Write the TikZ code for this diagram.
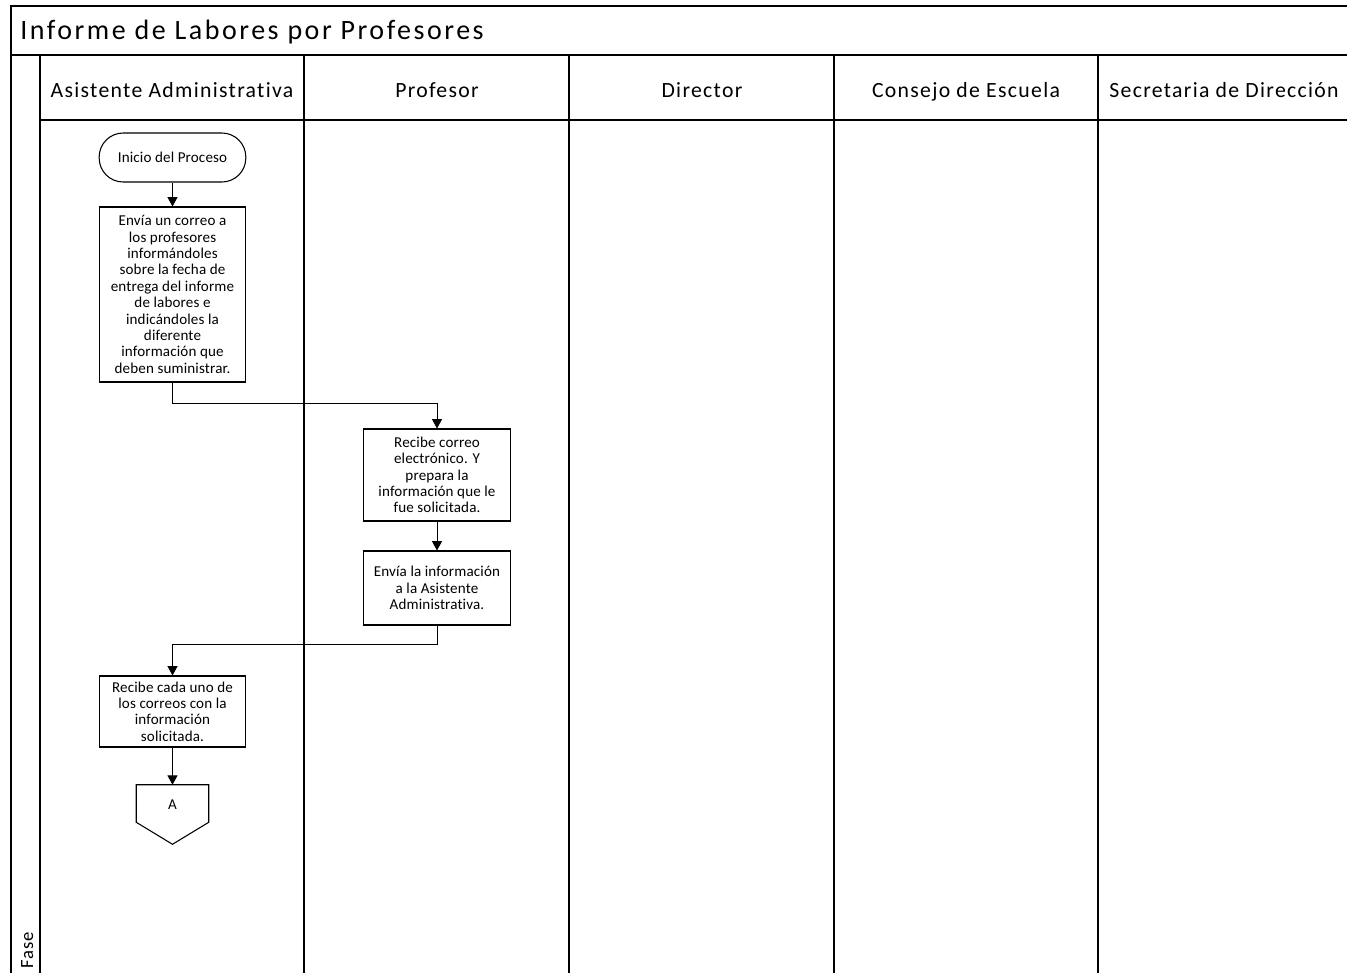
\documentclass[tikz,border=0pt]{standalone}
\usepackage{fontspec}
\setmainfont[Ligatures=NoCommon]{Carlito}
\newfontfamily\titlefont[LetterSpace=9,Ligatures=NoCommon]{Carlito}
\newfontfamily\lanefont[LetterSpace=6,Ligatures=NoCommon]{Carlito}
\newfontfamily\boxfont[LetterSpace=1,Ligatures=NoCommon]{Carlito}
\usetikzlibrary{arrows.meta,calc}

\begin{document}
\begin{tikzpicture}[x=0.75pt,y=-0.75pt,
    lane/.style={line width=1.5pt},
    head/.style={font=\lanefont\fontsize{16.3}{19}\selectfont, inner sep=0pt, anchor=base},
    proc/.style={draw=black, line width=0.8pt, fill=white, align=center,
        font=\boxfont\fontsize{11.3}{12.3}\selectfont, minimum width=110pt, inner sep=1pt},
    term/.style={proc, rounded corners=18pt, minimum height=36.75pt},
    offpage/.style={minimum width=54pt, minimum height=27.75pt, inner sep=0pt,
        font=\boxfont\fontsize{11.3}{12}\selectfont},
    flow/.style={line width=0.6pt, -{Triangle[width=7.5pt,length=7pt]}}]

    \useasboundingbox (0,0) rectangle (1347,972);
    \clip (0,0) rectangle (1347,972);

    % Frame, title bar and lane headers
    \draw[lane] (11,980) -- (11,6) -- (1370,6);
    \draw[lane] (11,55) -- (1370,55);
    \draw[lane] (40,55) -- (40,980);
    \draw[lane] (40,120) -- (1370,120);
    \foreach \x in {304,569,834,1098}
        \draw[lane] (\x,55) -- (\x,980);

    \node[anchor=base west, inner sep=0pt, font=\titlefont\fontsize{21}{24}\selectfont] (title) at (20,39) {Informe de Labores por Profesores};
    \node[rotate=90, anchor=base west, inner sep=0pt, font=\lanefont\fontsize{14}{17}\selectfont] (fase) at (33,969) {Fase};

    \foreach \cx/\name/\txt in {172/asistente/Asistente Administrativa, 437/profesor/Profesor,
        702/director/Director, 966/consejo/Consejo de Escuela, 1224/secretaria/Secretaria de Dirección}
        \node[head] (\name) at (\cx,97) {\txt};

    % Process steps
    \node[term] (inicio) at (172.5,157.5) {Inicio del Proceso};
    \node[proc, minimum height=131.25pt] (envia) at (172.5,294.5)
        {Envía un correo a\\los profesores\\informándoles\\sobre la fecha de\\entrega del informe\\de labores e\\indicándoles la\\diferente\\información que\\deben suministrar.};
    \node[proc, minimum height=69pt] (recibe) at (437,475)
        {Recibe correo\\electrónico. Y\\prepara la\\información que le\\fue solicitada.};
    \node[proc, minimum height=55.5pt] (enviaInfo) at (437,588)
        {Envía la información\\a la Asistente\\Administrativa.};
    \node[proc, minimum height=53.25pt] (recibeCorreos) at (172.5,711.5)
        {Recibe cada uno de\\los correos con la\\información\\solicitada.};

    % Off-page connector
    \node[offpage] (offA) at (172.5,805) {A};
    \draw[line width=0.8pt] ($(offA.north west)+(0,-1.5)$) -- ($(offA.north east)+(0,-1.5)$) -- ($(offA.south east)+(0,-1.5)$)
        -- ($(offA.south)+(0,20.5)$) -- ($(offA.south west)+(0,-1.5)$) -- cycle;

    % Connectors
    \draw[flow] (inicio) -- (envia);
    \draw[flow] (envia.south) -- ++(0,21) -| (recibe.north);
    \draw[flow] (recibe) -- (enviaInfo);
    \draw[flow] (enviaInfo.south) -- ++(0,19) -| (recibeCorreos.north);
    \draw[flow] (recibeCorreos) -- ($(offA.north)+(0,-1.5)$);
\end{tikzpicture}
\end{document}
